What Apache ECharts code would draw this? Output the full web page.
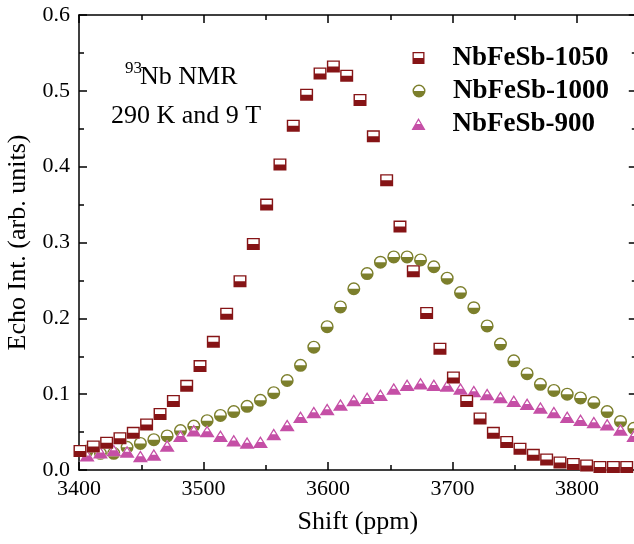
<!DOCTYPE html>
<html>
<head>
<meta charset="utf-8">
<script src="https://cdn.jsdelivr.net/npm/echarts@6/dist/echarts.min.js"></script>
<style>
html,body{margin:0;padding:0;background:#fff;}
#chart{width:634px;height:544px;}
</style>
</head>
<body>
<div id="chart"></div>
<script>
// ---- data ----
const seriesNames = ['NbFeSb-1050', 'NbFeSb-1000', 'NbFeSb-900'];

const shift1050 = [3400.8, 3411.5, 3422.2, 3432.9, 3443.6, 3454.3, 3465.1, 3475.8, 3486.5, 3497.2,
  3507.9, 3518.6, 3529.3, 3540.0, 3550.7, 3561.4, 3572.1, 3582.8, 3593.6, 3604.3,
  3615.0, 3625.7, 3636.4, 3647.1, 3657.8, 3668.5, 3679.2, 3689.9, 3700.7, 3711.4,
  3722.1, 3732.8, 3743.5, 3754.2, 3764.9, 3775.6, 3786.3, 3797.0, 3807.7, 3818.4,
  3829.2, 3839.9];
const int1050 = [0.025, 0.031, 0.036, 0.042, 0.049, 0.060, 0.074, 0.091, 0.111, 0.137,
  0.169, 0.206, 0.249, 0.298, 0.350, 0.403, 0.454, 0.495, 0.523, 0.532,
  0.520, 0.488, 0.440, 0.382, 0.321, 0.262, 0.207, 0.160, 0.122, 0.091,
  0.068, 0.049, 0.037, 0.028, 0.020, 0.014, 0.010, 0.008, 0.006, 0.004,
  0.004, 0.004];

const shift1000 = [3406.5, 3417.2, 3427.9, 3438.6, 3449.3, 3460.1, 3470.8, 3481.5, 3492.2, 3502.9,
  3513.6, 3524.3, 3535.0, 3545.7, 3556.4, 3567.2, 3577.9, 3588.6, 3599.3, 3610.0,
  3620.7, 3631.4, 3642.1, 3652.8, 3663.5, 3674.3, 3685.0, 3695.7, 3706.4, 3717.1,
  3727.8, 3738.5, 3749.2, 3759.9, 3770.6, 3781.4, 3792.1, 3802.8, 3813.5, 3824.2,
  3834.9, 3845.6];
const int1000 = [0.025, 0.022, 0.022, 0.030, 0.035, 0.040, 0.045, 0.052, 0.058, 0.065,
  0.072, 0.077, 0.084, 0.092, 0.102, 0.118, 0.138, 0.162, 0.189, 0.215,
  0.239, 0.259, 0.274, 0.281, 0.281, 0.277, 0.268, 0.253, 0.234, 0.214,
  0.190, 0.166, 0.144, 0.127, 0.113, 0.105, 0.100, 0.095, 0.089, 0.077,
  0.064, 0.055];

const shift900 = [3406.5, 3417.2, 3427.9, 3438.6, 3449.3, 3460.1, 3470.8, 3481.5, 3492.2, 3502.9,
  3513.6, 3524.3, 3535.0, 3545.7, 3556.4, 3567.2, 3577.9, 3588.6, 3599.3, 3610.0,
  3620.7, 3631.4, 3642.1, 3652.8, 3663.5, 3674.3, 3685.0, 3695.7, 3706.4, 3717.1,
  3727.8, 3738.5, 3749.2, 3759.9, 3770.6, 3781.4, 3792.1, 3802.8, 3813.5, 3824.2,
  3834.9, 3845.6];
const int900 = [0.019, 0.023, 0.026, 0.024, 0.018, 0.020, 0.032, 0.045, 0.052, 0.051,
  0.045, 0.039, 0.036, 0.037, 0.047, 0.059, 0.070, 0.076, 0.080, 0.086,
  0.092, 0.095, 0.099, 0.107, 0.112, 0.114, 0.112, 0.111, 0.107, 0.104,
  0.100, 0.096, 0.091, 0.087, 0.082, 0.076, 0.070, 0.066, 0.063, 0.060,
  0.053, 0.045];

const xTickLabels = ['3400', '3500', '3600', '3700', '3800'];
const yTickLabels = ['0.0', '0.1', '0.2', '0.3', '0.4', '0.5', '0.6'];

// ---- styling ----
const FONT = '"Liberation Serif", "Times New Roman", serif';
const C1050 = '#861416';
const C1000 = '#7c7f2c';
const C900 = '#c54fa6';

// half-filled marker paths (outer ring + filled lower half, hole in upper half)
const SQ = 'path://M0 0 H12 V12 H0 Z M1.3 1.3 V6 H10.7 V1.3 Z';
const CI = 'path://M0 6 A6 6 0 1 1 12 6 A6 6 0 1 1 0 6 Z M1.3 6 L10.7 6 A4.7 4.7 0 0 0 1.3 6 Z';
const TR = 'path://M7 0 L14 12 L0 12 Z M7 2.5 L4.85 6 L9.15 6 Z';

const pairs = (xs, ys) => xs.map((x, i) => [x, ys[i]]);

function under(data, symbol, size) {
  return {
    type: 'scatter', name: '_u', data: data, symbol: symbol, symbolSize: size,
    itemStyle: { color: '#ffffff', opacity: 1 }, silent: true, animation: false,
    xAxisIndex: 0, yAxisIndex: 0, emphasis: { disabled: true }
  };
}
function main(name, data, symbol, size, color) {
  return {
    type: 'scatter', name: name, data: data, symbol: symbol, symbolSize: size,
    itemStyle: { color: color, opacity: 1 }, animation: false,
    xAxisIndex: 0, yAxisIndex: 0, emphasis: { disabled: true }
  };
}

const d1050 = pairs(shift1050, int1050);
const d1000 = pairs(shift1000, int1000);
const d900 = pairs(shift900, int900);

const xAxisCommon = {
  type: 'value', min: 3400, max: 3848, interval: 100,
  axisLine: { show: true, onZero: false, lineStyle: { color: '#000', width: 1.5 } },
  axisTick: { show: true, inside: true, length: 8, lineStyle: { color: '#000', width: 1.5 } },
  minorTick: { show: true, splitNumber: 2, length: 5, lineStyle: { color: '#000', width: 1.5 } },
  splitLine: { show: false }
};
const yAxisCommon = {
  type: 'value', min: 0, max: 0.6, interval: 0.1,
  axisLine: { show: true, onZero: false, lineStyle: { color: '#000', width: 1.5 } },
  axisTick: { show: true, inside: true, length: 8, lineStyle: { color: '#000', width: 1.5 } },
  minorTick: { show: true, splitNumber: 2, length: 5, lineStyle: { color: '#000', width: 1.5 } },
  splitLine: { show: false }
};

function legendFor(name, icon, w, h, cx, cy) {
  return {
    data: [{ name: name, icon: icon }],
    left: cx - w / 2, top: cy - 17.5,
    itemWidth: w, itemHeight: h,
    orient: 'vertical', selectedMode: false,
    textStyle: { fontFamily: FONT, fontSize: 27, fontWeight: 'bold', color: '#000',
      padding: [0, 0, 0, 452 - (cx - w / 2) - w - 5 - 4] }
  };
}

const chart = echarts.init(document.getElementById('chart'), null, { renderer: 'canvas' });
chart.setOption({
  backgroundColor: '#ffffff',
  animation: false,
  grid: { left: 79, top: 15, width: 557.8, height: 455, containLabel: false, outerBoundsMode: 'none' },
  xAxis: [
    Object.assign({}, xAxisCommon, {
      position: 'bottom',
      name: 'Shift (ppm)', nameLocation: 'middle', nameGap: 39,
      nameTextStyle: { fontFamily: FONT, fontSize: 26, color: '#000' },
      axisLabel: { show: true, margin: 8, fontFamily: FONT, fontSize: 22, color: '#000',
        showMaxLabel: false,
        formatter: v => xTickLabels[Math.round((v - 3400) / 100)] || '' }
    }),
    Object.assign({}, xAxisCommon, { position: 'top', axisLabel: { show: false } })
  ],
  yAxis: [
    Object.assign({}, yAxisCommon, {
      position: 'left',
      name: 'Echo Int. (arb. units)', nameLocation: 'middle', nameGap: 44,
      nameTextStyle: { fontFamily: FONT, fontSize: 26, color: '#000' },
      axisLabel: { show: true, margin: 9, fontFamily: FONT, fontSize: 22, color: '#000',
        formatter: v => yTickLabels[Math.round(v * 10)] }
    }),
    Object.assign({}, yAxisCommon, { position: 'right', axisLabel: { show: false } })
  ],
  legend: [
    legendFor('NbFeSb-1050', SQ, 13, 12, 414, 57),
    legendFor('NbFeSb-1000', CI, 13, 13, 414, 90),
    legendFor('NbFeSb-900', TR, 15, 12, 414, 123)
  ],
  graphic: [
    { type: 'text', left: 125, top: 60, style: { text: '93', font: '17px ' + FONT, fill: '#000' } },
    { type: 'text', left: 140, top: 64, style: { text: 'Nb NMR', font: '26px ' + FONT, fill: '#000' } },
    { type: 'text', left: 111, top: 103, style: { text: '290 K and 9 T', font: '26px ' + FONT, fill: '#000' } }
  ],
  series: [
    under(d1000, 'circle', 13),
    main('NbFeSb-1000', d1000, CI, 13, C1000),
    under(d900, 'triangle', [15, 12]),
    main('NbFeSb-900', d900, TR, [15, 12], C900),
    under(d1050, 'rect', [13, 12]),
    main('NbFeSb-1050', d1050, SQ, [13, 12], C1050)
  ]
});
</script>
</body>
</html>
